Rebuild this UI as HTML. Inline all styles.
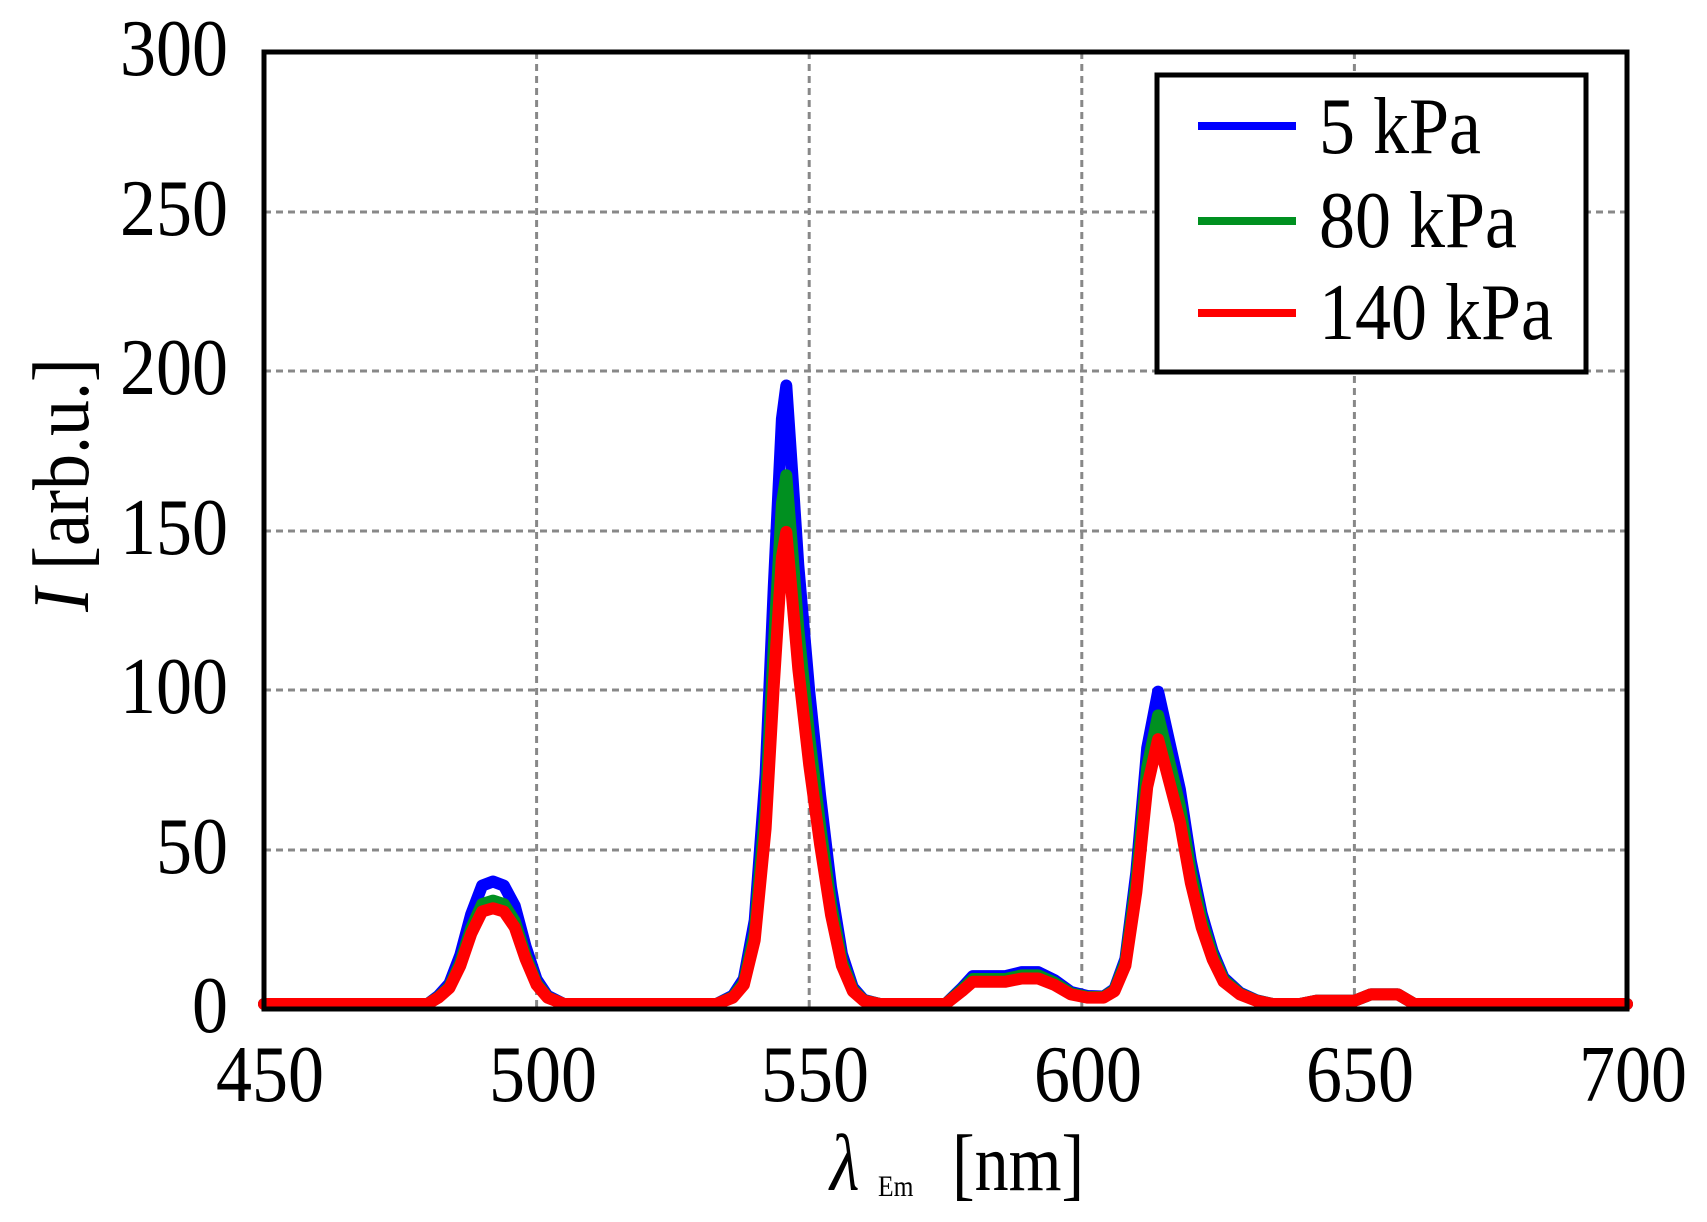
<!DOCTYPE html>
<html><head><meta charset="utf-8"><style>
html,body{margin:0;padding:0;background:#fff;}
svg{display:block;}
text{font-family:"Liberation Serif",serif;fill:#000;}
</style></head><body>
<svg id="s" width="1707" height="1222" viewBox="0 0 1707 1222" xmlns="http://www.w3.org/2000/svg">
<g stroke="#888" stroke-width="3" stroke-dasharray="7,5">
<line x1="536.6" y1="52" x2="536.6" y2="1009"/><line x1="809.2" y1="52" x2="809.2" y2="1009"/>
<line x1="1081.8" y1="52" x2="1081.8" y2="1009"/><line x1="1354.4" y1="52" x2="1354.4" y2="1009"/>
<line x1="264" y1="850" x2="1627" y2="850"/><line x1="264" y1="690" x2="1627" y2="690"/>
<line x1="264" y1="531" x2="1627" y2="531"/><line x1="264" y1="371" x2="1627" y2="371"/>
<line x1="264" y1="212" x2="1627" y2="212"/>
</g>
<g id="series" fill="none" stroke-width="12" stroke-linejoin="round" stroke-linecap="round"></g>
<rect x="264" y="52" width="1363" height="957" fill="none" stroke="#000" stroke-width="5"/>
<g font-size="80" text-anchor="end">
<text transform="translate(228,1032) scale(0.9,1)">0</text>
<text transform="translate(228,873) scale(0.9,1)">50</text>
<text transform="translate(228,713) scale(0.9,1)">100</text>
<text transform="translate(228,554) scale(0.9,1)">150</text>
<text transform="translate(228,394) scale(0.9,1)">200</text>
<text transform="translate(228,235) scale(0.9,1)">250</text>
<text transform="translate(228,75) scale(0.9,1)">300</text>
</g>
<g font-size="80" text-anchor="middle">
<text transform="translate(270,1101) scale(0.9,1)">450</text>
<text transform="translate(543,1101) scale(0.9,1)">500</text>
<text transform="translate(815,1101) scale(0.9,1)">550</text>
<text transform="translate(1088,1101) scale(0.9,1)">600</text>
<text transform="translate(1360,1101) scale(0.9,1)">650</text>
<text transform="translate(1633,1101) scale(0.9,1)">700</text>
</g>
<text transform="translate(830,1190) scale(0.85,1)" font-size="80" font-style="italic">λ</text>
<text transform="translate(878,1196) scale(0.85,1)" font-size="30">Em</text>
<text transform="translate(952,1190) scale(0.85,1)" font-size="80">[nm]</text>
<text transform="translate(88,485) rotate(-90) scale(0.9,1)" font-size="80" text-anchor="middle"><tspan font-style="italic">I</tspan> [arb.u.]</text>
<rect x="1157" y="75" width="429" height="297" fill="#fff" stroke="#000" stroke-width="5"/>
<line x1="1198" y1="126" x2="1296" y2="126" stroke="#0000ff" stroke-width="8"/>
<line x1="1198" y1="221" x2="1296" y2="221" stroke="#009020" stroke-width="8"/>
<line x1="1198" y1="313" x2="1296" y2="313" stroke="#ff0000" stroke-width="8"/>
<g font-size="80">
<text transform="translate(1319,153) scale(0.9,1)">5 kPa</text>
<text transform="translate(1319,247) scale(0.9,1)">80 kPa</text>
<text transform="translate(1319,339) scale(0.9,1)">140 kPa</text>
</g>
</svg>
<script>
var base=[[450,0],[480,0],[482,2],[484,5],[486,12],[488,22],[490,29],[492,30],[494,29],[496,24],[498,14],[500,6],[502,2],[505,0],[533,0],[536,2],[538,6],[540,20],[542,55],[543.5,100],[545,140],[545.8,148],[547,125],[548,105],[550,75],[552,50],[554,28],[556,12],[558,4],[560,1],[563,0],[575,0],[578,4],[580,7],[583,7],[586,7],[589,8],[592,8],[595,6],[598,3],[601,2],[604,2],[606,4],[608,12],[610,35],[612,68],[614,83],[616,70],[618,57],[620,38],[622,24],[624,14],[626,7],[629,3],[632,1],[635,0],[640,0],[643,1],[650,1],[653,3],[658,3],[661,0],[700,0]];
function f(l,k){return l<510?k[0]:l<570?k[1]:l<603?k[2]:l<638?k[3]:k[4];}
var S=[["#0000ff",[1.28,1.31,1.25,1.18,1.0]],["#009020",[1.08,1.12,1.12,1.09,1.0]],["#ff0000",[1,1,1,1,1]]];
var g=document.getElementById("series"),html="";
S.forEach(function(s){var p=base.map(function(d){var x=264+(d[0]-450)*5.452,y=1004-d[1]*f(d[0],s[1])*3.19;return x.toFixed(1)+","+y.toFixed(1);}).join(" ");
html+='<polyline stroke="'+s[0]+'" points="'+p+'"/>';});
g.innerHTML=html;
</script>
</body></html>
